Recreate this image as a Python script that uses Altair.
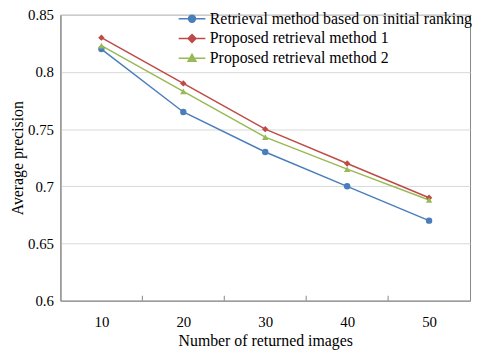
import altair as alt
import pandas as pd

x_values = [10, 20, 30, 40, 50]
series_names = [
    "Retrieval method based on initial ranking",
    "Proposed retrieval method 1",
    "Proposed retrieval method 2",
]
baseline = [0.820, 0.765, 0.730, 0.700, 0.670]
method1 = [0.830, 0.790, 0.750, 0.720, 0.690]
method2 = [0.823, 0.783, 0.743, 0.715, 0.688]
colors = ["#4A7EBB", "#BE4B48", "#98B954"]
shapes = ["circle", "diamond", "triangle-up"]
legend_paths = [
    "M-2.7,0H2.7M-0.7,0A0.7,0.7,0,1,1,0.7,0A0.7,0.7,0,1,1,-0.7,0Z",
    "M-2.7,0H2.7M0,-0.8L0.8,0L0,0.8L-0.8,0Z",
    "M-2.7,0H2.7M0,-0.8L0.8,0.6L-0.8,0.6Z",
]
tick_positions = [15, 25, 35, 45]

rows = []
for name, vals in zip(series_names, [baseline, method1, method2]):
    for xv, yv in zip(x_values, vals):
        rows.append({"n": xv, "p": yv, "series": name})
df = pd.DataFrame(rows)
ticks_df = pd.DataFrame({"t": tick_positions})

W, H = 414, 289
FONT = "Liberation Serif"

xscale = alt.Scale(domain=[5, 55], nice=False, zero=False)
yscale = alt.Scale(domain=[0.6, 0.85], nice=False, zero=False)

x_enc = alt.X("n:Q", scale=xscale,
              axis=alt.Axis(values=x_values, title="Number of returned images",
                            grid=False, ticks=False, labelPadding=14, titlePadding=3))
y_enc = alt.Y("p:Q", scale=yscale,
              axis=alt.Axis(values=[0.6, 0.65, 0.7, 0.75, 0.8, 0.85], format="~g",
                            title="Average precision", ticks=False, labelPadding=7,
                            titlePadding=2))

color_scale = alt.Scale(domain=series_names, range=colors)

lines = alt.Chart(df).mark_line(strokeWidth=1.5).encode(
    x=x_enc, y=y_enc,
    color=alt.Color("series:N", scale=color_scale, legend=None),
    detail="series:N",
)

points = alt.Chart(df).mark_point(filled=True, size=42, opacity=1).encode(
    x=alt.X("n:Q", scale=xscale),
    y=alt.Y("p:Q", scale=yscale),
    color=alt.Color("series:N", scale=color_scale, legend=None),
    shape=alt.Shape("series:N", scale=alt.Scale(domain=series_names, range=shapes), legend=None),
)


def legend_def():
    return alt.Legend(
        title=None, orient="none", legendX=125, legendY=-4, padding=0,
        symbolSize=100, symbolStrokeWidth=1.5, symbolOpacity=1, labelOffset=10, rowPadding=4,
        labelFont=FONT, labelFontSize=16, labelColor="black", labelLimit=400)


legend_layer = alt.Chart(df).transform_filter("datum.n < 0").mark_point(
    filled=True, strokeWidth=1.5, opacity=1
).encode(
    x=alt.X("n:Q", scale=xscale),
    y=alt.Y("p:Q", scale=yscale),
    fill=alt.Fill("series:N", scale=alt.Scale(domain=series_names, range=colors), legend=legend_def()),
    stroke=alt.Stroke("series:N", scale=alt.Scale(domain=series_names, range=colors), legend=legend_def()),
    shape=alt.Shape("series:N", scale=alt.Scale(domain=series_names, range=legend_paths), legend=legend_def()),
)

inner_ticks = alt.Chart(ticks_df).mark_rule(color="#878787", strokeWidth=1).encode(
    x=alt.X("t:Q", scale=xscale),
    y=alt.value(H),
    y2=alt.value(H - 5),
)

chart = alt.layer(lines, points, inner_ticks, legend_layer).resolve_scale(
    shape="independent", fill="independent", stroke="independent"
).properties(
    width=W, height=H,
    autosize=alt.AutoSizeParams(type="none"),
    padding={"left": 53, "top": 5, "right": 2, "bottom": 48},
).configure_view(
    stroke="#878787", strokeWidth=1
).configure_axis(
    labelFont=FONT, labelFontSize=15, labelColor="black",
    titleFont=FONT, titleFontSize=16, titleFontWeight="normal", titleColor="black",
    domainColor="#878787", gridColor="#d9d9d9", gridWidth=1,
)

chart.save("out.html", embed_options={"renderer": "svg", "actions": False})
